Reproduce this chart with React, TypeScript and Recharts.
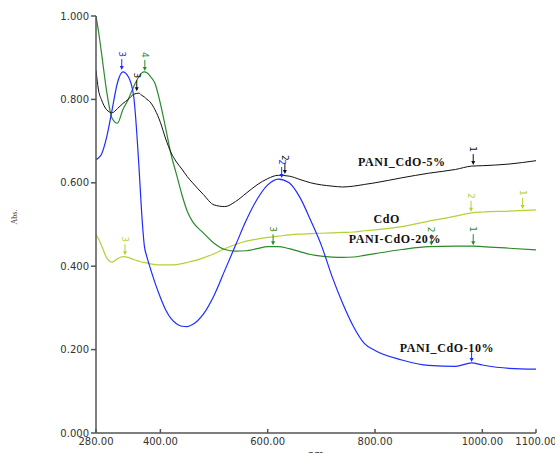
import React from 'react';
import {
  ComposedChart,
  Line,
  Scatter,
  XAxis,
  YAxis,
  ReferenceDot
} from 'recharts';

// wavelength (nm) and absorbance
const wavelengths = [280, 285, 290, 300, 310, 320, 330, 340, 350, 360, 365, 370, 375, 380, 390, 400, 410, 420, 430, 440, 450, 460, 480, 500, 520, 540, 560, 580, 600, 620, 640, 660, 680, 700, 720, 740, 760, 780, 800, 850, 900, 950, 980, 1000, 1050, 1100];
const pani5 = [0.87, 0.82, 0.8, 0.775, 0.768, 0.778, 0.79, 0.8, 0.812, 0.815, 0.81, 0.806, 0.8, 0.795, 0.775, 0.745, 0.705, 0.672, 0.65, 0.633, 0.615, 0.6, 0.572, 0.547, 0.543, 0.555, 0.575, 0.595, 0.61, 0.618, 0.616, 0.608, 0.6, 0.595, 0.592, 0.59, 0.592, 0.596, 0.6, 0.612, 0.623, 0.632, 0.64, 0.641, 0.645, 0.653];
const pani10 = [0.655, 0.66, 0.668, 0.71, 0.775, 0.84, 0.866, 0.855, 0.81, 0.64, 0.53, 0.45, 0.422, 0.4, 0.36, 0.325, 0.295, 0.274, 0.262, 0.256, 0.255, 0.26, 0.285, 0.33, 0.39, 0.45, 0.51, 0.56, 0.595, 0.609, 0.6, 0.565, 0.51, 0.45, 0.375, 0.31, 0.255, 0.215, 0.198, 0.175, 0.162, 0.16, 0.168, 0.163, 0.155, 0.153];
const pani20 = [1.0, 0.96, 0.914, 0.818, 0.755, 0.743, 0.775, 0.8, 0.83, 0.855, 0.863, 0.866, 0.864, 0.857, 0.838, 0.79, 0.73, 0.667, 0.62, 0.572, 0.532, 0.507, 0.48, 0.455, 0.44, 0.436, 0.437, 0.442, 0.447, 0.447, 0.442, 0.435, 0.428, 0.424, 0.422, 0.421, 0.422, 0.426, 0.43, 0.44, 0.447, 0.448, 0.448, 0.447, 0.443, 0.439];
const cdo = [0.475, 0.465, 0.45, 0.42, 0.41, 0.418, 0.423, 0.421, 0.416, 0.412, 0.41, 0.409, 0.408, 0.406, 0.404, 0.403, 0.403, 0.403, 0.404, 0.406, 0.409, 0.412, 0.42, 0.43, 0.442, 0.452, 0.46, 0.465, 0.469, 0.472, 0.475, 0.477, 0.478, 0.479, 0.48, 0.481, 0.482, 0.485, 0.487, 0.495, 0.508, 0.52, 0.528, 0.53, 0.532, 0.535];

// peak picks (number shown rotated above a small arrow)
const peaks5 = [{ nm: 983, v: 0.64, n: '1' }, { nm: 632, v: 0.619, n: '2' }, { nm: 356, v: 0.817, n: '3' }];
const peaks10 = [{ nm: 328, v: 0.868, n: '3' }, { nm: 626, v: 0.609, n: '2' }, { nm: 980, v: 0.168, n: '' }];
const peaks20 = [{ nm: 371, v: 0.866, n: '4' }, { nm: 610, v: 0.448, n: '3' }, { nm: 905, v: 0.447, n: '2' }, { nm: 983, v: 0.448, n: '1' }];
const peaksCdo = [{ nm: 334, v: 0.424, n: '3' }, { nm: 979, v: 0.528, n: '2' }, { nm: 1075, v: 0.535, n: '1' }];

const seriesLabels = [
  { nm: 850, v: 0.65, text: 'PANI_CdO-5%' },
  { nm: 822, v: 0.513, text: 'CdO' },
  { nm: 837, v: 0.465, text: 'PANI-CdO-20%' },
  { nm: 934, v: 0.204, text: 'PANI_CdO-10%' }
];

const xTicks = [280, 400, 600, 800, 1000, 1100];
const yTicks = [0, 0.2, 0.4, 0.6, 0.8, 1.0];

const rows = wavelengths.map((nm, i) => ({
  nm,
  pani5: pani5[i],
  pani10: pani10[i],
  pani20: pani20[i],
  cdo: cdo[i]
}));

const BLACK = '#111111';
const BLUE = '#1f2cff';
const GREEN = '#2b8a2b';
const YELLOW = '#b2d235';
const AXIS = '#555555';

const tickFont = { fontSize: 10, fontFamily: 'DejaVu Sans', fill: '#333' };

const makePeak = (color: string) => (props: any) => {
  const { cx, cy, payload } = props;
  if (cx == null || cy == null) return <g />;
  return (
    <g>
      <line x1={cx} y1={cy - 12} x2={cx} y2={cy - 3} stroke={color} strokeWidth={1} />
      <path d={`M${cx - 2},${cy - 5} L${cx + 2},${cy - 5} L${cx},${cy - 1} Z`} fill={color} />
      {payload.n ? (
        <text
          x={cx}
          y={cy - 17}
          fill={color}
          fontSize={9}
          fontFamily="DejaVu Sans"
          textAnchor="middle"
          dominantBaseline="central"
          transform={`rotate(90 ${cx} ${cy - 17})`}
        >
          {payload.n}
        </text>
      ) : null}
    </g>
  );
};

const noTick = () => <g />;

export default function App() {
  return (
    <div style={{ position: 'absolute', left: 0, top: 0, width: 555, height: 453, background: '#fff' }}>
      <ComposedChart
        width={555}
        height={453}
        data={rows}
        margin={{ top: 16, right: 19, left: 0, bottom: 0 }}
      >
        <XAxis
          dataKey="nm"
          type="number"
          domain={[280, 1100]}
          ticks={xTicks}
          allowDataOverflow
          height={20}
          tickSize={-4}
          tickMargin={9}
          tickFormatter={(v: number) => v.toFixed(2)}
          tick={tickFont}
          stroke={AXIS}
          strokeWidth={1.5}
          interval={0}
          label={{ value: 'nm', position: 'insideBottom', offset: -5, fontSize: 10, fontFamily: 'DejaVu Sans', fill: '#333' }}
        />
        <XAxis
          xAxisId="top"
          dataKey="nm"
          type="number"
          orientation="top"
          domain={[280, 1100]}
          ticks={[400, 600, 800, 1000]}
          allowDataOverflow
          height={0}
          tickSize={-4}
          tick={noTick}
          stroke={AXIS}
          strokeWidth={1.5}
        />
        <YAxis
          type="number"
          domain={[0, 1]}
          ticks={yTicks}
          allowDataOverflow
          width={96}
          tickSize={5}
          tickMargin={2}
          tickFormatter={(v: number) => v.toFixed(3)}
          tick={tickFont}
          stroke={AXIS}
          strokeWidth={1.5}
          interval={0}
          label={{ value: 'Abs.', angle: -90, position: 'insideLeft', offset: 14, fontSize: 8, fontFamily: 'Liberation Serif', fill: '#333' }}
        />
        <YAxis
          yAxisId="right"
          type="number"
          orientation="right"
          domain={[0, 1]}
          ticks={[0.2, 0.4, 0.6, 0.8]}
          allowDataOverflow
          width={0}
          tickSize={-4}
          tick={noTick}
          stroke={AXIS}
          strokeWidth={1.5}
        />
        <Line type="monotone" dataKey="cdo" stroke={YELLOW} strokeWidth={1.2} dot={false} isAnimationActive={false} />
        <Line type="monotone" dataKey="pani20" stroke={GREEN} strokeWidth={1.2} dot={false} isAnimationActive={false} />
        <Line type="monotone" dataKey="pani5" stroke={BLACK} strokeWidth={1} dot={false} isAnimationActive={false} />
        <Line type="monotone" dataKey="pani10" stroke={BLUE} strokeWidth={1.2} dot={false} isAnimationActive={false} />
        <Scatter data={peaks5} dataKey="v" shape={makePeak(BLACK)} isAnimationActive={false} />
        <Scatter data={peaks10} dataKey="v" shape={makePeak(BLUE)} isAnimationActive={false} />
        <Scatter data={peaks20} dataKey="v" shape={makePeak(GREEN)} isAnimationActive={false} />
        <Scatter data={peaksCdo} dataKey="v" shape={makePeak(YELLOW)} isAnimationActive={false} />
        {seriesLabels.map((l) => (
          <ReferenceDot
            key={l.text}
            x={l.nm}
            y={l.v}
            r={0}
            shape={(p: any) => (
              <text
                x={p.cx}
                y={p.cy}
                textAnchor="middle"
                dominantBaseline="central"
                fontFamily="Liberation Serif"
                fontWeight="bold"
                fontSize={12}
                letterSpacing={0.6}
                fill="#111"
              >
                {l.text}
              </text>
            )}
          />
        ))}
      </ComposedChart>
    </div>
  );
}
